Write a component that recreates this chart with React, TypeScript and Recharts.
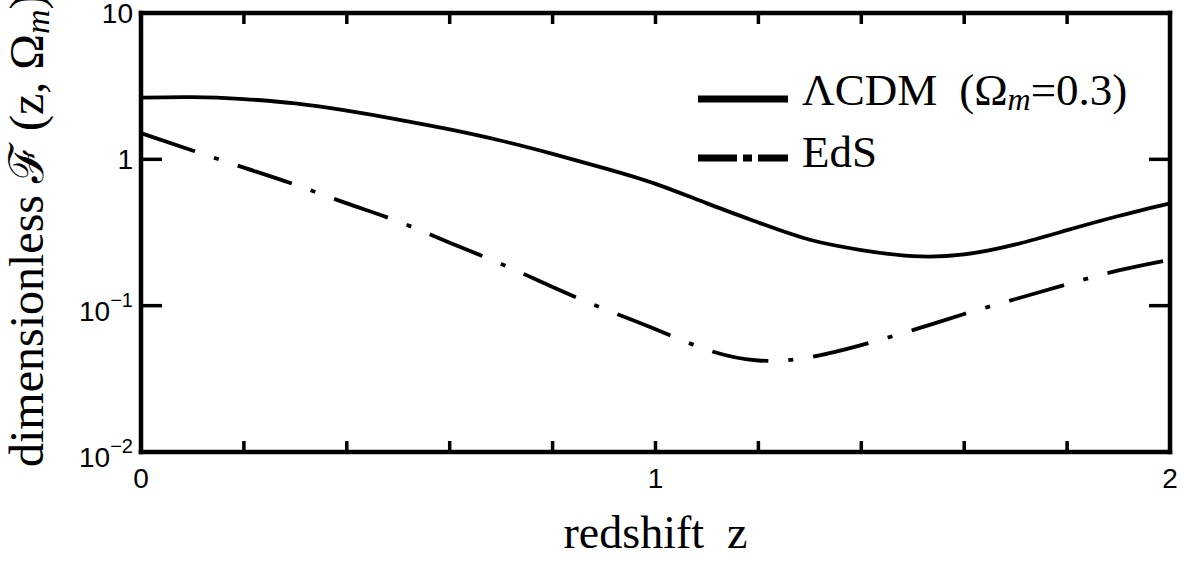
import React from 'react';
import { LineChart, Line, XAxis, YAxis, Legend, Label } from 'recharts';

// redshift grid (categories)
const zValues = [0, 0.1, 0.2, 0.3, 0.4, 0.5, 0.6, 0.7, 0.8, 0.9, 1.0, 1.1, 1.2, 1.3, 1.4, 1.5, 1.6, 1.7, 1.8, 1.9, 2.0];
// ΛCDM (Ωm = 0.3)
const lcdmValues = [2.64, 2.66, 2.58, 2.41, 2.15, 1.87, 1.6, 1.34, 1.09, 0.87, 0.68, 0.5, 0.37, 0.282, 0.24, 0.218, 0.224, 0.262, 0.328, 0.41, 0.5];
// EdS
const edsValues = [1.51, 1.15, 0.877, 0.67, 0.5, 0.376, 0.269, 0.193, 0.134, 0.095, 0.069, 0.05, 0.0422, 0.0445, 0.0538, 0.068, 0.0877, 0.111, 0.14, 0.174, 0.206];

const xTicks = [0, 0.2, 0.4, 0.6, 0.8, 1, 1.2, 1.4, 1.6, 1.8, 2];
const xTickLabels = ['0', '1', '2'];
const yTicks = [0.01, 0.1, 1, 10];
const yTickBases = ['10', '10', '1', '10'];
const yTickExps = ['−2', '−1', '', ''];

const seriesNames = ['ΛCDM', 'EdS'];

const data = zValues.map((z, i) => ({ z, lcdm: lcdmValues[i], eds: edsValues[i] }));
// top (mirror) axis works on the row index of the z grid
const topTickIndices = xTicks.map((t) => zValues.findIndex((z) => Math.abs(z - t) < 1e-9));

const SANS = '"Liberation Sans", Arial, Helvetica, sans-serif';
const SERIF = '"Liberation Serif", "Times New Roman", serif';

const EmptyTick = () => <g />;

const XTick = (props: any) => {
  const { x, y, payload } = props;
  const v = payload.value;
  const label = xTickLabels.find((l) => Number(l) === v);
  if (!label) return <g />;
  return (
    <text x={x} y={y + 20} textAnchor="middle" fontFamily={SANS} fontSize={28} fill="#000">
      {label}
    </text>
  );
};

const YTick = (props: any) => {
  const { x, y, payload } = props;
  const idx = yTicks.findIndex((t) => Math.abs(t - payload.value) < 1e-9);
  if (idx < 0) return <g />;
  const base = yTickBases[idx];
  const exp = yTickExps[idx];
  if (!exp) {
    return (
      <text x={x} y={y + 10} textAnchor="end" fontFamily={SANS} fontSize={28} fill="#000">
        {base}
      </text>
    );
  }
  return (
    <text x={x} y={y + 15} textAnchor="end" fontFamily={SANS} fontSize={28} fill="#000">
      <tspan>{base}</tspan>
      <tspan fontSize={20} dy={-14}>{exp}</tspan>
    </text>
  );
};

const LegendContent = (props: any) => {
  const payload = [...(props.payload || [])].sort(
    (a: any, b: any) => seriesNames.indexOf(a.value) - seriesNames.indexOf(b.value)
  );
  const rows = [
    { dash: undefined as string | undefined, lineY: 44, textY: 50 },
    { dash: '39 6 9 6 60', lineY: 103, textY: 112 },
  ];
  return (
    <svg width={480} height={130} style={{ display: 'block', overflow: 'visible' }}>
      {payload.map((entry: any, i: number) => {
        const r = rows[i];
        if (!r) return null;
        return (
          <g key={i}>
            <line x1={8} x2={98} y1={r.lineY} y2={r.lineY} stroke="#000" strokeWidth={7} strokeDasharray={r.dash} />
            {i === 0 ? (
              <text x={112} y={r.textY} fontFamily={SERIF} fontSize={45} fill="#000">
                <tspan>{entry.value}</tspan>
                <tspan dx={22}>(Ω</tspan>
                <tspan fontStyle="italic" fontSize={32} dy={5}>m</tspan>
                <tspan dy={-5}>=0.3)</tspan>
              </text>
            ) : (
              <text x={112} y={r.textY} fontFamily={SERIF} fontSize={45} fill="#000">
                {entry.value}
              </text>
            )}
          </g>
        );
      })}
    </svg>
  );
};

const axisLineStyle = { stroke: '#000', strokeWidth: 4.5, strokeLinecap: 'square' as const };
const tickLineStyle = { stroke: '#000', strokeWidth: 3.5 };

export default function App() {
  return (
    <div style={{ position: 'absolute', left: 0, top: 0, width: 1191, height: 563, background: '#fff' }}>
      <LineChart width={1191} height={563} data={data} margin={{ top: 12, right: 20, bottom: 0, left: 0 }}>
        <XAxis
          dataKey="z"
          type="number"
          domain={[0, 2]}
          ticks={xTicks}
          interval={0}
          height={111}
          axisLine={axisLineStyle}
          tickLine={tickLineStyle}
          tickSize={-11}
          tickMargin={27}
          tick={<XTick />}
        >
          <Label
            content={(p: any) => {
              const vb = p.viewBox || {};
              return (
                <text x={vb.x + vb.width / 2} y={vb.y + 96} textAnchor="middle" fontFamily={SERIF} fontSize={46} fill="#000">
                  {'redshift\u00a0\u00a0z'}
                </text>
              );
            }}
          />
        </XAxis>
        <XAxis
          xAxisId="top"
          orientation="top"
          type="number"
          domain={[0, zValues.length - 1]}
          ticks={topTickIndices}
          interval={0}
          height={1}
          axisLine={axisLineStyle}
          tickLine={tickLineStyle}
          tickSize={-11}
          tick={<EmptyTick />}
        />
        <YAxis
          type="number"
          scale="log"
          domain={[0.01, 10]}
          allowDataOverflow
          ticks={yTicks}
          interval={0}
          width={141}
          axisLine={axisLineStyle}
          tickLine={tickLineStyle}
          tickSize={-21}
          tickMargin={29}
          tick={<YTick />}
        >
          <Label
            content={(p: any) => {
              const vb = p.viewBox || {};
              const ax = vb.x + 43;
              const ay = vb.y + vb.height + 15;
              return (
                <text
                  x={ax}
                  y={ay}
                  transform={`rotate(-90 ${ax} ${ay})`}
                  textAnchor="start"
                  fontFamily={SERIF}
                  fontSize={48}
                  fill="#000"
                >
                  <tspan>{'dimensionless ℱ (z, Ω'}</tspan>
                  <tspan fontStyle="italic" fontSize={34} dy={6}>m</tspan>
                  <tspan dy={-6}>)</tspan>
                </text>
              );
            }}
          />
        </YAxis>
        <YAxis
          yAxisId="right"
          orientation="right"
          type="number"
          scale="log"
          domain={[0.01, 10]}
          allowDataOverflow
          ticks={yTicks}
          interval={0}
          width={1}
          axisLine={axisLineStyle}
          tickLine={tickLineStyle}
          tickSize={-21}
          tick={<EmptyTick />}
        />
        <Legend
          layout="vertical"
          align="center"
          verticalAlign="middle"
          content={<LegendContent />}
          wrapperStyle={{ left: 690, top: 55, width: 480, height: 130 }}
        />
        <Line
          dataKey="lcdm"
          name={seriesNames[0]}
          type="natural"
          stroke="#000"
          strokeWidth={3.8}
          dot={false}
          activeDot={false}
          isAnimationActive={false}
        />
        <Line
          dataKey="eds"
          name={seriesNames[1]}
          type="natural"
          stroke="#000"
          strokeWidth={3.8}
          strokeDasharray="57 20 5 20"
          dot={false}
          activeDot={false}
          isAnimationActive={false}
        />
      </LineChart>
    </div>
  );
}
